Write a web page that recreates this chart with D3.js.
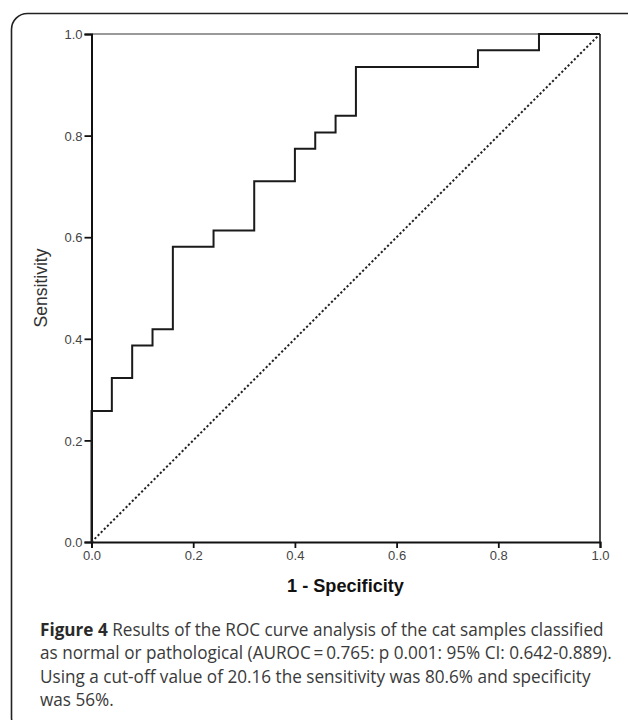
<!DOCTYPE html>
<html>
<head>
<meta charset="utf-8">
<script src="https://cdn.jsdelivr.net/npm/d3@7"></script>
<style>
html,body{margin:0;padding:0;background:#fff;}
svg{display:block;}
</style>
</head>
<body>
<svg id="chart" width="628" height="720"></svg>
<script>
// ROC curve data (1 - specificity, sensitivity)
const fpr = [0, 0, 0.04, 0.04, 0.08, 0.08, 0.12, 0.12, 0.16, 0.16, 0.24, 0.24, 0.32, 0.32, 0.40, 0.40, 0.44, 0.44, 0.48, 0.48, 0.52, 0.52, 0.76, 0.76, 0.88, 0.88, 1.0];
const tpr = [0, 0.258, 0.258, 0.323, 0.323, 0.387, 0.387, 0.419, 0.419, 0.581, 0.581, 0.613, 0.613, 0.710, 0.710, 0.774, 0.774, 0.806, 0.806, 0.839, 0.839, 0.935, 0.935, 0.968, 0.968, 1.0, 1.0];
const refX = [0, 1];
const refY = [0, 1];
const ticks = [0.0, 0.2, 0.4, 0.6, 0.8, 1.0];
const xTitle = "1 - Specificity";
const yTitle = "Sensitivity";
const captionBold = "Figure 4";
const captionLines = [
  " Results of the ROC curve analysis of the cat samples classified",
  "as normal or pathological (AUROC\u2009=\u20090.765: p 0.001: 95% CI: 0.642-0.889).",
  "Using a cut-off value of 20.16 the sensitivity was 80.6% and specificity",
  "was 56%."
];

const svg = d3.select("#chart");

// outer rounded frame
svg.append("rect")
  .attr("x", 11.5).attr("y", 13.5)
  .attr("width", 640).attr("height", 720)
  .attr("rx", 16).attr("ry", 16)
  .attr("fill", "none").attr("stroke", "#222").attr("stroke-width", 1.6);

const x = d3.scaleLinear().domain([0, 1]).range([91.5, 600]);
const y = d3.scaleLinear().domain([0, 1]).range([542, 34]);

const font = "Arial, 'Liberation Sans', sans-serif";

// top & right frame
svg.append("line").attr("x1", x(0)).attr("x2", x(1)).attr("y1", y(1)).attr("y2", y(1))
  .attr("stroke", "#777").attr("stroke-width", 1.6);
svg.append("line").attr("x1", x(1)).attr("x2", x(1)).attr("y1", y(1)).attr("y2", y(0))
  .attr("stroke", "#222").attr("stroke-width", 1.6);

// axes
const xAxis = svg.append("g").attr("transform", `translate(0,${y(0)})`)
  .call(d3.axisBottom(x).tickValues(ticks).tickFormat(d3.format(".1f")).tickSize(6).tickPadding(3));
const yAxis = svg.append("g").attr("transform", `translate(${x(0)},0)`)
  .call(d3.axisLeft(y).tickValues(ticks).tickFormat(d3.format(".1f")).tickSize(7).tickPadding(2));
[xAxis, yAxis].forEach(g => {
  g.attr("font-size", 13).attr("font-family", font);
  g.select(".domain").attr("stroke", "#111").attr("stroke-width", 2);
  g.selectAll(".tick line").attr("stroke", "#111").attr("stroke-width", 1.8);
  g.selectAll(".tick text").attr("fill", "#444").attr("font-size", 13).style("font-size", "13px");
});
yAxis.selectAll(".tick text").attr("dy", "0.36em");

// reference diagonal
svg.append("path")
  .attr("d", d3.line().x((d, i) => x(refX[i])).y((d, i) => y(refY[i]))(refX))
  .attr("fill", "none").attr("stroke", "#222").attr("stroke-width", 2)
  .attr("stroke-dasharray", "2.2,2.2");

// ROC curve
svg.append("path")
  .attr("d", d3.line().x((d, i) => x(fpr[i])).y((d, i) => y(tpr[i]))(fpr))
  .attr("fill", "none").attr("stroke", "#1a1a1a").attr("stroke-width", 2)
  .attr("stroke-linejoin", "miter");

// axis titles
const xt = svg.append("text").attr("x", 345.5).attr("y", 592)
  .attr("text-anchor", "middle")
  .style("font-family", font).style("font-weight", "bold").style("font-size", "16px")
  .attr("fill", "#111").text(xTitle);
const yt = svg.append("text").attr("transform", "translate(47,288) rotate(-90)")
  .attr("text-anchor", "middle")
  .style("font-family", font).style("font-size", "14px")
  .attr("fill", "#333").text(yTitle);
function fit(el, target, size){
  const w = el.node().getComputedTextLength();
  el.style("font-size", (size * target / w) + "px");
}
fit(xt, 117, 16);
fit(yt, 79, 14);

// caption: rendered at full size, then compressed horizontally (condensed face look)
const capFont = "'Open Sans', 'Noto Sans', sans-serif";
const capX = 40;
const cap = svg.append("g");
const baselines = [636, 659.5, 683, 706.5];
const lineEls = captionLines.map((t, i) => {
  const te = cap.append("text").attr("x", 0).attr("y", baselines[i])
    .style("font-family", capFont).style("font-size", "17.5px").attr("fill", "#3a3a3a");
  if (i === 0) {
    te.append("tspan").style("font-weight", "bold").attr("fill", "#2a2a2a").text(captionBold);
  }
  te.append("tspan").text(t);
  return te;
});
const w0 = lineEls[0].node().getComputedTextLength();
const sx = 564 / w0;
cap.attr("transform", `translate(${capX},0) scale(${sx},1)`);
</script>
</body>
</html>
